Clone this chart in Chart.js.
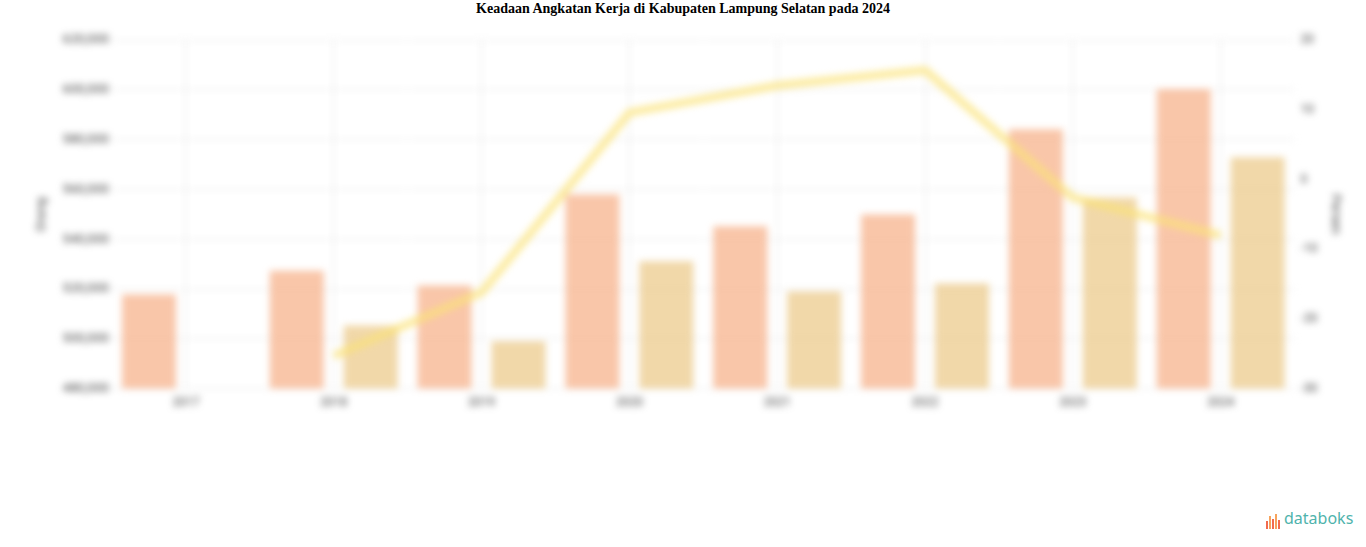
<!DOCTYPE html>
<html>
<head>
    <title>Keadaan Angkatan Kerja</title>
    <meta charset="UTF-8">
    <style>
        body {
            margin: 0;
            background: #fff;
            width: 1366px;
            height: 547px;
            overflow: hidden;
            position: relative;
        }
        .main-title {
            position: absolute;
            top: 1px;
            left: 0;
            width: 1366px;
            text-align: center;
            font-family: "Liberation Serif", "Times New Roman", serif;
            font-weight: bold;
            font-size: 14px;
            margin: 0;
            color: #000;
        }
        .chart-container {
            position: absolute;
            top: 27px;
            left: 0;
            width: 1366px;
            height: 390px;
            filter: blur(3.5px);
        }
        .logo {
            position: absolute;
            left: 1266px;
            top: 507px;
            font-family: "Noto Sans", sans-serif;
            font-size: 16px;
            color: #4fb3ac;
            display: flex;
            align-items: flex-end;
        }
        .logo .bars {
            display: flex;
            align-items: flex-end;
            height: 18px;
            margin-right: 3px;
        }
        .logo .bars span {
            display: inline-block;
            width: 2px;
            margin-right: 1px;
            background: #f26b4e;
        }
    </style>
    <!-- Include Chart.js library -->
    <script src="https://cdn.jsdelivr.net/npm/chart.js"></script>
</head>
<body>

<h1 class="main-title">Keadaan Angkatan Kerja di Kabupaten Lampung Selatan pada 2024</h1>

<div class="chart-container">
    <canvas id="myChart"></canvas>
</div>

<div class="logo">
    <div class="bars"><span style="height:8px"></span><span style="height:13px;background:#f7a35c"></span><span style="height:10px"></span><span style="height:15px;background:#f7a35c"></span><span style="height:9px"></span></div>
    <span>databoks</span>
</div>

<script>
    const years = ['2017', '2018', '2019', '2020', '2021', '2022', '2023', '2024'];
    const angkatanKerja = [517800, 527400, 521400, 558000, 545200, 550000, 584200, 600400];
    const bekerja = [null, 505400, 499000, 531200, 519000, 522200, 556800, 573000];
    const pertumbuhan = [null, -25.3, -16.2, 9.6, 13.5, 15.7, -2.6, -8.0];

    const leftTicks = [480000, 500000, 520000, 540000, 560000, 580000, 600000, 620000];
    const rightTicks = [-30, -20, -10, 0, 10, 20];

    window.onload = function () {
        const ctx = document.getElementById('myChart').getContext('2d');

        new Chart(ctx, {
            type: 'bar',
            data: {
                labels: years,
                datasets: [{
                    type: 'line',
                    label: 'Pertumbuhan',
                    data: pertumbuhan,
                    yAxisID: 'y1',
                    borderColor: 'rgba(251, 226, 120, 0.7)',
                    borderWidth: 8,
                    pointRadius: 0,
                    fill: false,
                    tension: 0,
                    order: 0
                }, {
                    label: 'Angkatan Kerja',
                    data: angkatanKerja,
                    yAxisID: 'y',
                    backgroundColor: 'rgba(246, 176, 136, 0.72)',
                    categoryPercentage: 1.0,
                    barPercentage: 0.73,
                    order: 1
                }, {
                    label: 'Bekerja',
                    data: bekerja,
                    yAxisID: 'y',
                    backgroundColor: 'rgba(234, 198, 128, 0.68)',
                    categoryPercentage: 1.0,
                    barPercentage: 0.73,
                    order: 1
                }]
            },
            options: {
                responsive: true,
                maintainAspectRatio: false,
                animation: false,
                layout: {
                    padding: { left: 30, right: 19, top: 0, bottom: 0 }
                },
                plugins: {
                    legend: { display: false },
                    tooltip: { enabled: false }
                },
                scales: {
                    x: {
                        grid: {
                            offset: false,
                            color: '#e6e6e6',
                            drawTicks: false
                        },
                        border: { display: false },
                        ticks: {
                            color: '#444',
                            font: { size: 12, family: 'Roboto' },
                            padding: 7
                        }
                    },
                    y: {
                        position: 'left',
                        min: leftTicks[0],
                        max: leftTicks[leftTicks.length - 1],
                        afterBuildTicks: function (axis) {
                            axis.ticks = leftTicks.map(v => ({ value: v }));
                        },
                        title: {
                            display: true,
                            text: 'Orang',
                            color: '#444',
                            font: { size: 13, family: 'Roboto' },
                            padding: { top: 4, bottom: 10 }
                        },
                        grid: {
                            color: '#e6e6e6',
                            drawTicks: false
                        },
                        border: { display: false },
                        ticks: {
                            color: '#444',
                            font: { size: 13, family: 'Roboto' },
                            padding: 3,
                            callback: function (value) {
                                return value.toLocaleString('en-US');
                            }
                        }
                    },
                    y1: {
                        position: 'right',
                        min: rightTicks[0],
                        max: rightTicks[rightTicks.length - 1],
                        afterBuildTicks: function (axis) {
                            axis.ticks = rightTicks.map(v => ({ value: v }));
                        },
                        title: {
                            display: true,
                            text: 'Persen',
                            color: '#444',
                            font: { size: 13, family: 'Roboto' }
                        },
                        grid: { drawOnChartArea: false, drawTicks: false },
                        border: { display: false },
                        ticks: {
                            color: '#444',
                            font: { size: 12, family: 'Roboto' },
                            padding: 6
                        }
                    }
                }
            }
        });
    };
</script>
</body>
</html>
